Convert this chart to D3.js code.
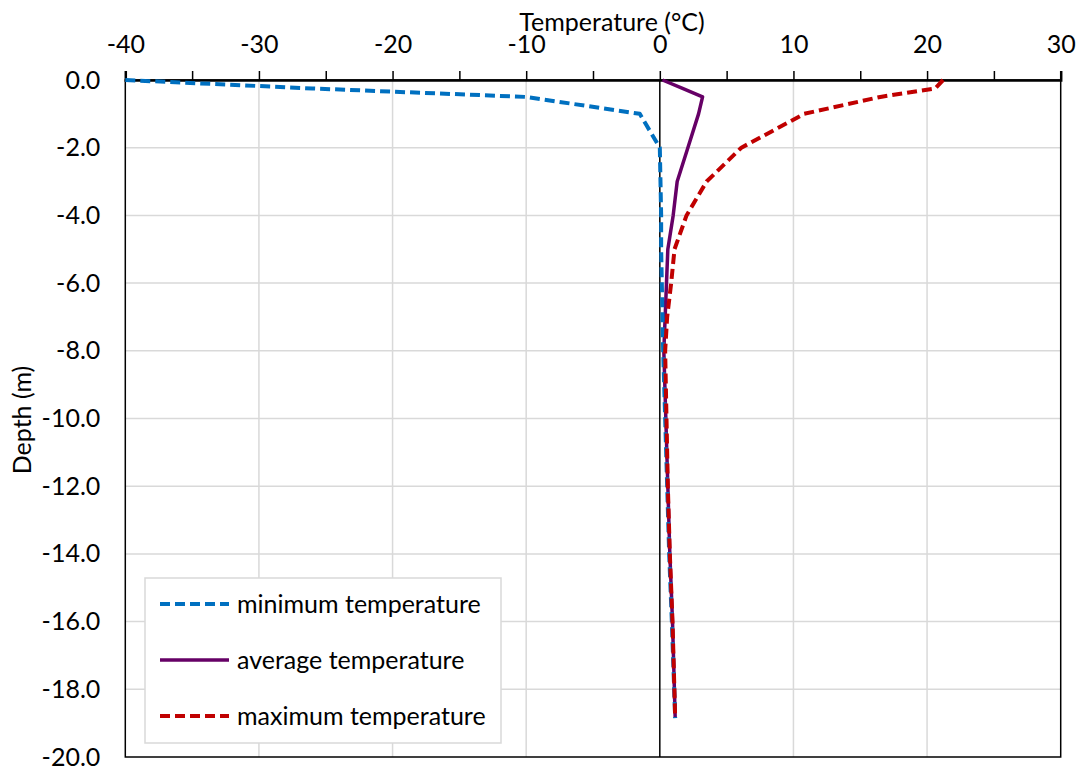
<!DOCTYPE html>
<html>
<head>
<meta charset="utf-8">
<script src="https://cdn.jsdelivr.net/npm/d3@7"></script>
<style>
  body { margin: 0; background: #fff; }
  svg text { font-family: Lato, "Open Sans", sans-serif; fill: #000; }
</style>
</head>
<body>
<div id="chart"></div>
<script>
// Temperature profile vs depth

const depths = [0, -0.25, -0.5, -1, -2, -3, -4, -5, -6, -7, -8, -10, -12, -14, -16, -18.85];
const minTemp = [-40, -26, -10, -1.5, 0, 0.05, 0.1, 0.1, 0.15, 0.2, 0.25, 0.4, 0.55, 0.7, 0.9, 1.15];
const avgTemp = [0.2, 1.7, 3.2, 2.9, 2.1, 1.3, 1.0, 0.6, 0.5, 0.4, 0.3, 0.45, 0.6, 0.75, 0.95, 1.15];
const maxTemp = [21.2, 20.6, 16.5, 10.8, 6.1, 3.5, 2.0, 1.1, 0.85, 0.55, 0.4, 0.5, 0.6, 0.75, 0.95, 1.15];

const xTicks = [-40, -35, -30, -25, -20, -15, -10, -5, 0, 5, 10, 15, 20, 25, 30];
const xLabels = [-40, -30, -20, -10, 0, 10, 20, 30];
const yTicks = [0, -2, -4, -6, -8, -10, -12, -14, -16, -18, -20];

const seriesNames = ['minimum temperature', 'average temperature', 'maximum temperature'];
const seriesColors = ['#0070c0', '#660066', '#c00000'];
const seriesDash = ['10,5', null, '10,5'];

const width = 1078, height = 768;
const margin = { top: 80, right: 17.3, bottom: 11, left: 125.3 };
const innerWidth = width - margin.left - margin.right;
const innerHeight = height - margin.top - margin.bottom;
const fontSize = '25px';

const svg = d3.select('#chart').append('svg')
  .attr('width', width)
  .attr('height', height);

const g = svg.append('g')
  .attr('transform', `translate(${margin.left}, ${margin.top})`);

const x = d3.scaleLinear().domain([-40, 30]).range([0, innerWidth]);
const y = d3.scaleLinear().domain([0, -20]).range([0, innerHeight]);

// Gridlines
g.append('g').selectAll('line')
  .data(yTicks.slice(1, -1))
  .join('line')
  .attr('x1', 0).attr('x2', innerWidth)
  .attr('y1', d => y(d)).attr('y2', d => y(d))
  .attr('stroke', '#d9d9d9').attr('stroke-width', 1.5);

g.append('g').selectAll('line')
  .data(xLabels.filter(d => d !== 0 && d !== -40 && d !== 30))
  .join('line')
  .attr('x1', d => x(d)).attr('x2', d => x(d))
  .attr('y1', 0).attr('y2', innerHeight)
  .attr('stroke', '#d9d9d9').attr('stroke-width', 1.5);

// Frame
g.append('rect')
  .attr('width', innerWidth).attr('height', innerHeight)
  .attr('fill', 'none').attr('stroke', '#000').attr('stroke-width', 1.5);

// Zero line
g.append('line')
  .attr('x1', x(0)).attr('x2', x(0))
  .attr('y1', 0).attr('y2', innerHeight)
  .attr('stroke', '#000').attr('stroke-width', 1.5);

// Top axis
const xAxis = d3.axisTop(x)
  .tickValues(xTicks)
  .tickSize(9)
  .tickPadding(18)
  .tickFormat(d => xLabels.includes(d) ? String(d) : '');

const xAxisG = g.append('g').call(xAxis);
xAxisG.select('.domain').attr('stroke', '#000').attr('stroke-width', 2.5);
xAxisG.selectAll('.tick line').attr('stroke', '#000').attr('stroke-width', 1.5);
xAxisG.selectAll('.tick text')
  .style('font-family', 'Lato, sans-serif')
  .style('font-size', fontSize)
  .attr('fill', '#000');

// Left axis labels
const yAxis = d3.axisLeft(y)
  .tickValues(yTicks)
  .tickSize(0)
  .tickPadding(25)
  .tickFormat(d => d.toFixed(1));

const yAxisG = g.append('g').call(yAxis);
yAxisG.select('.domain').remove();
yAxisG.selectAll('.tick text')
  .style('font-family', 'Lato, sans-serif')
  .style('font-size', fontSize)
  .attr('fill', '#000');

// Axis titles
svg.append('text')
  .attr('x', 612).attr('y', 31)
  .attr('text-anchor', 'middle')
  .style('font-size', fontSize)
  .text('Temperature (°C)');

svg.append('text')
  .attr('transform', 'translate(31, 420) rotate(-90)')
  .attr('text-anchor', 'middle')
  .style('font-size', fontSize)
  .text('Depth (m)');

// Lines
const line = d3.line()
  .x(d => x(d[0]))
  .y(d => y(d[1]));

const seriesData = [minTemp, avgTemp, maxTemp].map(vals => vals.map((v, i) => [v, depths[i]]));

// average first, then min, then max so the red sits on top
[1, 0, 2].forEach(i => {
  g.append('path')
    .datum(seriesData[i])
    .attr('fill', 'none')
    .attr('stroke', seriesColors[i])
    .attr('stroke-width', i === 1 ? 3.5 : 4)
    .attr('stroke-dasharray', seriesDash[i])
    .attr('stroke-linejoin', 'round')
    .attr('d', line);
});

// Legend
const legend = svg.append('g').attr('transform', 'translate(145, 578)');
legend.append('rect')
  .attr('width', 356).attr('height', 165)
  .attr('fill', '#fff')
  .attr('stroke', '#d9d9d9').attr('stroke-width', 1.5);

seriesNames.forEach((name, i) => {
  const ly = 26 + i * 56;
  legend.append('line')
    .attr('x1', 15).attr('x2', 84)
    .attr('y1', ly).attr('y2', ly)
    .attr('stroke', seriesColors[i])
    .attr('stroke-width', i === 1 ? 3.5 : 4)
    .attr('stroke-dasharray', seriesDash[i]);
  legend.append('text')
    .attr('x', 92).attr('y', ly)
    .attr('dy', '0.35em')
    .style('font-size', fontSize)
    .text(name);
});
</script>
</body>
</html>
